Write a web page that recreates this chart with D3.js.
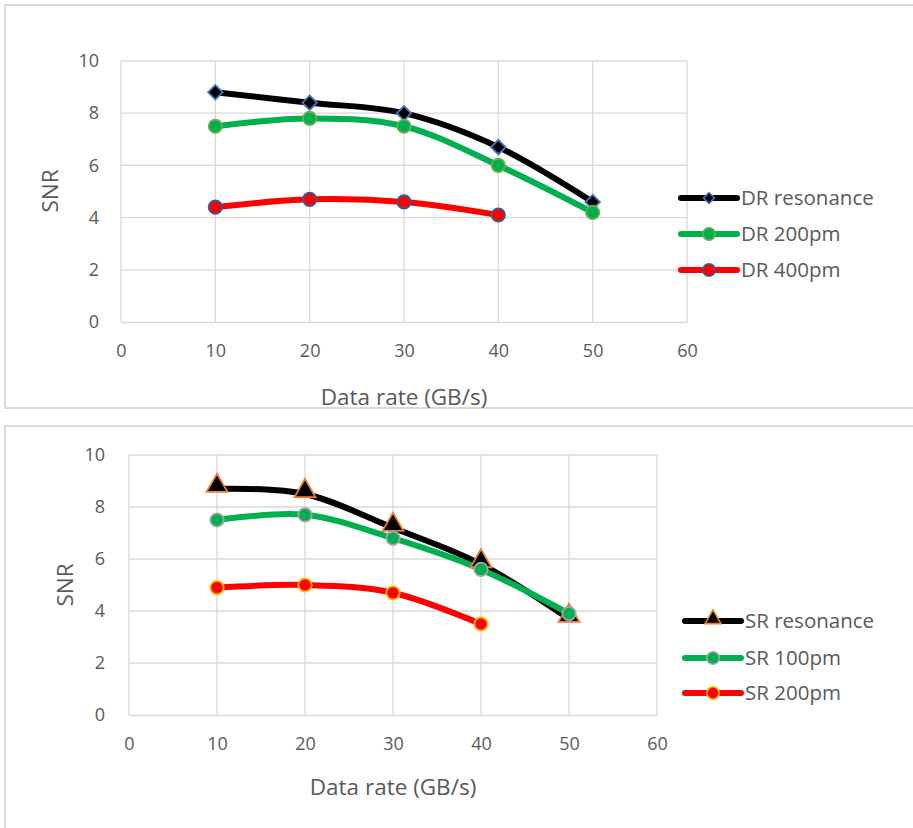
<!DOCTYPE html>
<html><head><meta charset="utf-8">
<script src="https://cdn.jsdelivr.net/npm/d3@7"></script>
<style>body{margin:0;background:#fff}svg{display:block}</style>
</head><body>
<svg id="c" width="913" height="828"></svg>
<script>
const xValues = [10, 20, 30, 40, 50];
const xTicks = [0, 10, 20, 30, 40, 50, 60];
const yTicks = [0, 2, 4, 6, 8, 10];

const drNames = ["DR resonance", "DR 200pm", "DR 400pm"];
const drResonance = [8.8, 8.4, 8.0, 6.7, 4.6];
const dr200 = [7.5, 7.8, 7.5, 6.0, 4.2];
const dr400 = [4.4, 4.7, 4.6, 4.1];

const srNames = ["SR resonance", "SR 100pm", "SR 200pm"];
const srResonance = [8.7, 8.5, 7.2, 5.8, 3.7];
const sr100 = [7.5, 7.7, 6.8, 5.6, 3.9];
const sr200 = [4.9, 5.0, 4.7, 3.5];

const xTitle = "Data rate (GB/s)";
const yTitle = "SNR";

const svg = d3.select("#c");
const font = "'Open Sans', sans-serif";
const textCol = "#595959";
const gridCol = "#d9d9d9";

function panel(cfg) {
  svg.append("rect").attr("x", cfg.frame[0]).attr("y", cfg.frame[1])
    .attr("width", cfg.frame[2]).attr("height", cfg.frame[3])
    .attr("fill", "#fff").attr("stroke", "#d9d9d9").attr("stroke-width", 2);

  const x = d3.scaleLinear().domain([0, 60]).range([cfg.x0, cfg.x1]);
  const y = d3.scaleLinear().domain([0, 10]).range([cfg.y0, cfg.y1]);
  const g = svg.append("g");

  g.append("g").selectAll("line").data(yTicks.filter(d => d > 0)).join("line")
    .attr("x1", cfg.x0).attr("x2", cfg.x1)
    .attr("y1", d => y(d)).attr("y2", d => y(d))
    .attr("stroke", gridCol).attr("stroke-width", 1.3);
  g.append("g").selectAll("line").data(xTicks).join("line")
    .attr("x1", d => x(d)).attr("x2", d => x(d))
    .attr("y1", cfg.y0).attr("y2", cfg.y1)
    .attr("stroke", gridCol).attr("stroke-width", 1.3);

  const xa = g.append("g").attr("transform", `translate(0,${cfg.y0})`)
    .call(d3.axisBottom(x).tickValues(xTicks).tickSize(0).tickPadding(cfg.xPad));
  xa.select(".domain").attr("stroke", gridCol).attr("stroke-width", 1.3);
  const ya = g.append("g").attr("transform", `translate(${cfg.x0},0)`)
    .call(d3.axisLeft(y).tickValues(yTicks).tickSize(0).tickPadding(cfg.yPad));
  ya.select(".domain").remove();
  g.selectAll(".tick text").attr("font-family", font).attr("font-size", 18)
    .attr("fill", textCol);

  g.append("text").attr("x", cfg.xTitle[0]).attr("y", cfg.xTitle[1])
    .attr("text-anchor", "middle").attr("font-family", font).attr("font-size", 22.5)
    .attr("fill", textCol).text(xTitle);
  g.append("text").attr("transform", `translate(${cfg.yTitle[0]},${cfg.yTitle[1]}) rotate(-90)`)
    .attr("text-anchor", "middle").attr("font-family", font).attr("font-size", 22.5)
    .attr("fill", textCol).text(yTitle);

  const line = d3.line().x((d, i) => x(xValues[i])).y(d => y(d))
    .curve(d3.curveCatmullRom.alpha(0));

  cfg.series.forEach(s => {
    g.append("path").datum(s.values).attr("d", line).attr("fill", "none")
      .attr("stroke", s.color).attr("stroke-width", 6)
      .attr("stroke-linecap", "round").attr("stroke-linejoin", "round");
  });
  cfg.series.forEach(s => {
    g.append("g").selectAll("path").data(s.values).join("path")
      .attr("transform", (d, i) => `translate(${x(xValues[i])},${y(d) + (s.shape === "tri" ? -3 : 0)}) rotate(${s.rot || 0})`)
      .attr("d", d3.symbol().type(s.symbol).size(s.size))
      .attr("fill", s.fill).attr("stroke", s.stroke).attr("stroke-width", 1.8);
  });

  cfg.series.forEach((s, i) => {
    const ly = cfg.legY[i];
    g.append("line").attr("x1", cfg.legX).attr("x2", cfg.legX + 56)
      .attr("y1", ly).attr("y2", ly).attr("stroke", s.color).attr("stroke-width", 6)
      .attr("stroke-linecap", "round");
    g.append("path").attr("transform", `translate(${cfg.legX + 28},${ly + (s.shape === "tri" ? -2 : 0)}) rotate(${s.rot || 0})`)
      .attr("d", d3.symbol().type(s.symbol).size(s.legSize))
      .attr("fill", s.fill).attr("stroke", s.stroke).attr("stroke-width", 1.6);
    g.append("text").attr("x", cfg.legX + 60).attr("y", ly).attr("dy", "0.36em")
      .attr("font-family", font).attr("font-size", 20.5).attr("fill", textCol).text(cfg.names[i]);
  });
}

panel({
  frame: [5, 5, 915, 403],
  x0: 121, x1: 687, y0: 322, y1: 61, xPad: 22, yPad: 22,
  xTitle: [404, 405], yTitle: [58, 191],
  legX: 681, legY: [198, 234, 270], names: drNames,
  series: [
    {values: drResonance, color: "#000", symbol: d3.symbolSquare, rot: 45, size: 105, legSize: 60, fill: "#000", stroke: "#4472c4"},
    {values: dr200, color: "#00b050", symbol: d3.symbolCircle, size: 140, legSize: 120, fill: "#00b050", stroke: "#70ad47"},
    {values: dr400, color: "#ff0000", symbol: d3.symbolCircle, size: 140, legSize: 120, fill: "#ff0000", stroke: "#2e5f9a"}
  ]
});

panel({
  frame: [5, 426, 915, 410],
  x0: 129, x1: 657, y0: 715, y1: 455, xPad: 22, yPad: 24,
  xTitle: [393, 795], yTitle: [73, 585],
  legX: 685, legY: [621, 658, 693], names: srNames,
  series: [
    {values: srResonance, color: "#000", symbol: d3.symbolTriangle, size: 190, legSize: 110, fill: "#000", stroke: "#ed7d31", shape: "tri"},
    {values: sr100, color: "#00b050", symbol: d3.symbolCircle, size: 140, legSize: 120, fill: "#00b050", stroke: "#a5a5a5"},
    {values: sr200, color: "#ff0000", symbol: d3.symbolCircle, size: 140, legSize: 120, fill: "#ff0000", stroke: "#ffc000"}
  ]
});
</script>
</body></html>
